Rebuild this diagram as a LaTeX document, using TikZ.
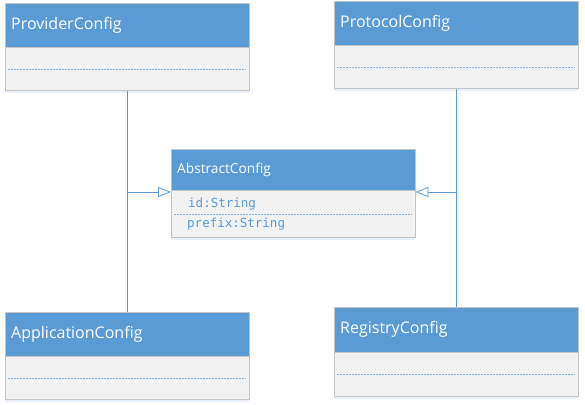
\documentclass[tikz,border=0pt]{standalone}
\usepackage{fontspec}
\setmainfont{Open Sans}
\setmonofont{DejaVu Sans Mono}
\usetikzlibrary{arrows.meta,shadows}
\definecolor{umlblue}{HTML}{5B9BD5}
\definecolor{umlgray}{HTML}{F2F2F2}
\definecolor{umledge}{HTML}{C4C4C4}
\begin{document}
\begin{tikzpicture}[x=1pt,y=-1pt,
    classhead/.style={draw=umledge,fill=umlblue,text=white,anchor=north west,
        minimum height=44pt,inner xsep=6pt,inner ysep=0pt,text width=232pt,
        align=left,font=\fontsize{16}{19}\selectfont},
    classbody/.style={draw=umledge,fill=umlgray,anchor=north,minimum width=244pt,
        minimum height=43pt,inner sep=0pt,
        drop shadow={shadow xshift=0pt,shadow yshift=-2pt,fill=umlblue,opacity=.15}}]
    \tikzstyle{attrline}=[draw=umlblue!75,line width=1pt,dash pattern=on 2pt off 1pt]
    \tikzstyle{attr}=[anchor=west,inner sep=0pt,text=umlblue,font=\ttfamily\fontsize{12.5}{14}\selectfont]
    \tikzstyle{link}=[draw=umlblue,line width=.8pt]

    \useasboundingbox (0,0) rectangle (585,404);

    % outer classes
    \node[classhead] (provider) at (5,3) {ProviderConfig};
    \node[classbody] (provider-body) at (provider.south) {};
    \node[classhead] (protocol) at (334,1) {ProtocolConfig};
    \node[classbody] (protocol-body) at (protocol.south) {};
    \node[classhead] (application) at (5,312) {ApplicationConfig};
    \node[classbody] (application-body) at (application.south) {};
    \node[classhead,minimum height=45pt] (registry) at (334,307) {RegistryConfig};
    \node[classbody,minimum height=44pt] (registry-body) at (registry.south) {};

    \draw[attrline] ([xshift=3pt]provider-body.west) -- ([xshift=-3pt]provider-body.east);
    \draw[attrline] ([xshift=3pt]protocol-body.west) -- ([xshift=-3pt]protocol-body.east);
    \draw[attrline] ([xshift=3pt]application-body.west) -- ([xshift=-3pt]application-body.east);
    \draw[attrline] ([xshift=3pt]registry-body.west) -- ([xshift=-3pt]registry-body.east);

    % abstract class
    \node[classhead,minimum height=41pt,font=\fontsize{13.7}{16}\selectfont] (abstract) at (171,149) {AbstractConfig};
    \node[classbody,minimum height=47pt] (abstract-body) at (abstract.south) {};
    \draw[attrline] ([xshift=3pt]abstract-body.west) -- ([xshift=-3pt]abstract-body.east);
    \node[attr] (abstract-id) at (188,204) {id:String};
    \node[attr] (abstract-prefix) at (187,224) {prefix:String};

    % inheritance
    \coordinate (left-join) at (127,192);
    \coordinate (right-join) at (456.5,192);
    \draw[link] (provider-body) -- (application);
    \draw[link] (protocol-body) -- (registry);
    \draw[link,-{Triangle[open,length=13pt,width=10pt]}] (left-join) -- (left-join -| abstract.west);
    \draw[link,-{Triangle[open,length=13pt,width=10pt]}] (right-join) -- (right-join -| abstract.east);

\end{tikzpicture}
\end{document}
